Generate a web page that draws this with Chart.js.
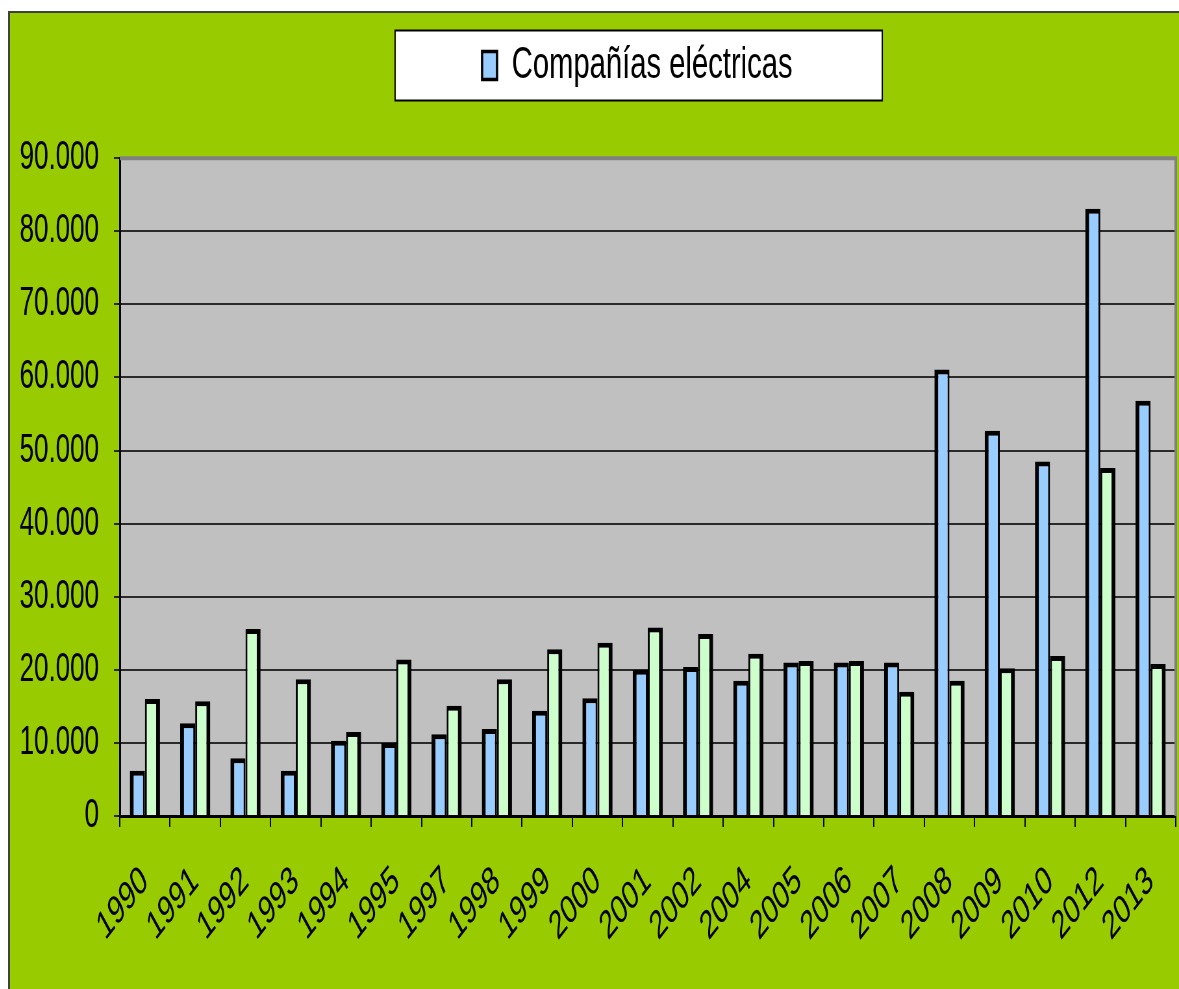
<!DOCTYPE html>
<html>
<head>
<meta charset="utf-8">
<script src="https://cdn.jsdelivr.net/npm/chart.js@4.4.1/dist/chart.umd.min.js"></script>
<style>
  html, body { margin: 0; padding: 0; background: #ffffff; }
  #page { position: relative; width: 1179px; height: 989px; overflow: hidden; }
  #frame {
    position: absolute; left: 8px; top: 11px; right: 0; bottom: 0;
    background: #99cc00; border-left: 2px solid #404040; border-top: 2px solid #404040;
    overflow: hidden;
  }
  /* the reference is squeezed horizontally, so the chart is drawn wide and scaled down */
  #chart {
    position: absolute; left: 0; top: 0; width: 1800px; height: 976px;
    transform: scaleX(0.64944); transform-origin: 0 0;
  }
</style>
</head>
<body>
<div id="page">
  <div id="frame">
    <canvas id="chart" width="1800" height="976"></canvas>
  </div>
</div>
<script>
// ── data ──
const years = ['1990', '1991', '1992', '1993', '1994', '1995', '1997', '1998', '1999', '2000',
  '2001', '2002', '2004', '2005', '2006', '2007', '2008', '2009', '2010', '2012', '2013'];

const companias = [6200, 12700, 7900, 6200, 10300, 10000, 11200, 11900, 14400, 16100,
  20000, 20400, 18500, 21000, 21000, 21000, 61100, 52700, 48500, 83100, 56800];

const otros = [16000, 15700, 25600, 18700, 11500, 21400, 15100, 18700, 22800, 23700,
  25800, 24900, 22200, 21200, 21200, 17000, 18500, 20200, 21900, 47600, 20800];

const yTicks = [0, 10000, 20000, 30000, 40000, 50000, 60000, 70000, 80000, 90000];

const FONT = 'Liberation Sans, Arial, sans-serif';

function fmtMiles(v) {
  return String(v).replace(/\B(?=(\d{3})+(?!\d))/g, '.');
}

// gray plot area, white legend box, plot border
const frameBits = {
  id: 'frameBits',
  afterUpdate(chart) {
    // nudge the legend a little left, like the original
    const lg = chart.legend;
    if (lg) {
      lg.left -= 16;
      lg.right -= 16;
      lg.legendHitBoxes.forEach(h => { h.left -= 16; });
    }
  },
  beforeDraw(chart) {
    const { ctx, chartArea: a } = chart;
    ctx.save();
    ctx.fillStyle = '#c0c0c0';
    ctx.fillRect(a.left, a.top, a.right - a.left, a.bottom - a.top);

    const hb = chart.legend && chart.legend.legendHitBoxes[0];
    if (hb) {
      const cy = hb.top + hb.height / 2;
      ctx.fillStyle = '#ffffff';
      ctx.fillRect(hb.left - 134, cy - 35, hb.width + 272, 70);
      ctx.lineWidth = 2;
      ctx.strokeStyle = '#000000';
      ctx.strokeRect(hb.left - 134, cy - 35, hb.width + 272, 70);
    }
    ctx.restore();
  },
  afterDraw(chart) {
    const { ctx, chartArea: a } = chart;
    ctx.save();
    ctx.strokeStyle = '#808080';
    ctx.lineWidth = 4;
    ctx.beginPath();
    ctx.moveTo(a.left, a.top);
    ctx.lineTo(a.right, a.top);
    ctx.lineTo(a.right, a.bottom);
    ctx.stroke();
    ctx.restore();
  }
};

new Chart(document.getElementById('chart'), {
  type: 'bar',
  data: {
    labels: years,
    datasets: [
      {
        label: 'Compañías eléctricas',
        data: companias,
        backgroundColor: '#99ccff',
        borderColor: '#000000',
        borderWidth: { top: 5, left: 6, right: 3, bottom: 0 }
      },
      {
        label: '',
        data: otros,
        backgroundColor: '#ccffcc',
        borderColor: '#000000',
        borderWidth: { top: 5, left: 3, right: 6, bottom: 0 }
      }
    ]
  },
  options: {
    responsive: false,
    animation: false,
    categoryPercentage: 0.6,
    barPercentage: 1.0,
    layout: { padding: { top: 18, left: 0, right: 5, bottom: 0 } },
    plugins: {
      legend: {
        position: 'top',
        fullSize: false,
        labels: {
          color: '#000000',
          font: { family: FONT, size: 45 },
          boxWidth: 23,
          boxHeight: 28,
          padding: 12,
          filter: (item) => item.text !== ''
        }
      },
      // empty title used as a gap between the legend and the plot
      title: {
        display: true,
        text: '',
        position: 'top',
        fullSize: false,
        weight: 500,
        font: { size: 1 },
        padding: { top: 59, bottom: 0 }
      },
      tooltip: { enabled: false }
    },
    scales: {
      x: {
        offset: true,
        grid: {
          offset: true,
          drawOnChartArea: false,
          color: '#000000',
          lineWidth: 2,
          tickLength: 11
        },
        border: { color: '#000000', width: 3 },
        ticks: {
          color: '#000000',
          font: { family: FONT, size: 40 },
          autoSkip: false,
          minRotation: 40,
          maxRotation: 40,
          padding: 30
        },
        afterFit(scale) {
          scale.height = 173;
          scale.paddingLeft = 0;
          scale.paddingRight = 0;
        }
      },
      y: {
        min: 0,
        max: 90000,
        afterBuildTicks(scale) { scale.ticks = yTicks.map(v => ({ value: v })); },
        grid: {
          color: '#2a2a2a',
          lineWidth: 2,
          tickLength: 9
        },
        border: { color: '#000000', width: 3 },
        ticks: {
          color: '#000000',
          font: { family: FONT, size: 40 },
          padding: 23,
          callback: (v) => fmtMiles(v)
        },
        afterFit(scale) { scale.width = 169; }
      }
    }
  },
  plugins: [frameBits]
});
</script>
</body>
</html>
